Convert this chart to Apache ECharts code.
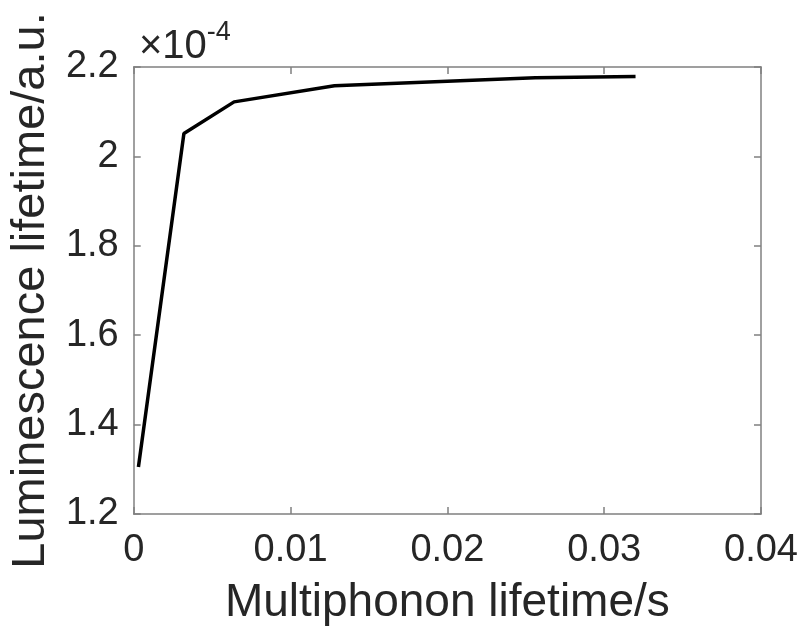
<!DOCTYPE html>
<html>
<head>
<meta charset="utf-8">
<script src="https://cdn.jsdelivr.net/npm/echarts@6/dist/echarts.min.js"></script>
<style>
  html, body { margin: 0; padding: 0; background: #fff; }
  #chart { width: 802px; height: 637px; }
</style>
</head>
<body>
<div id="chart"></div>
<script>
  // multiphonon lifetime (s) vs luminescence lifetime (x1e-4 a.u.)
  const phononLifetime = [0.0003, 0.0032, 0.0064, 0.0128, 0.0256, 0.032];
  const lumLifetime = [1.305, 2.051, 2.122, 2.158, 2.176, 2.179];
  const xTicks = [0, 0.01, 0.02, 0.03, 0.04];
  const yTicks = [1.2, 1.4, 1.6, 1.8, 2.0, 2.2];

  const axisGray = '#808080';
  const textDark = '#262626';
  const font = 'Liberation Sans, Arial, sans-serif';

  const chart = echarts.init(document.getElementById('chart'));

  const xLabelFmt = v => (v === 0 ? '0' : String(+v.toFixed(2)));
  const yLabelFmt = v => String(+v.toFixed(1));

  const baseAxis = {
    axisLine: { show: true, onZero: false, lineStyle: { color: axisGray, width: 1.5 } },
    axisTick: { show: true, inside: true, length: 7, lineStyle: { color: axisGray, width: 1.5 } },
    splitLine: { show: false }
  };

  chart.setOption({
    animation: false,
    title: {
      text: '{a|×10}{b|-4}',
      left: 134,
      top: 14,
      textStyle: {
        rich: {
          a: { fontFamily: font, fontSize: 40, fontWeight: 'normal', color: textDark, verticalAlign: 'bottom', lineHeight: 48 },
          b: { fontFamily: font, fontSize: 27, fontWeight: 'normal', color: textDark, verticalAlign: 'top', lineHeight: 48, padding: [0, 0, 18, 0] }
        }
      }
    },
    grid: { left: 133, top: 67, right: 41, bottom: 123 },
    xAxis: [
      Object.assign({}, baseAxis, {
        type: 'value', min: 0, max: 0.04, interval: 0.01,
        position: 'bottom',
        axisLabel: { fontFamily: font, fontSize: 38, color: textDark, margin: 18, formatter: xLabelFmt },
        name: 'Multiphonon lifetime/s',
        nameLocation: 'middle',
        nameGap: 66,
        nameTextStyle: { fontFamily: font, fontSize: 46, color: textDark }
      }),
      Object.assign({}, baseAxis, {
        type: 'value', min: 0, max: 0.04, interval: 0.01,
        position: 'top',
        axisLabel: { show: false }
      })
    ],
    yAxis: [
      Object.assign({}, baseAxis, {
        type: 'value', min: 1.2, max: 2.2, interval: 0.2,
        position: 'left',
        axisLabel: { fontFamily: font, fontSize: 38, color: textDark, margin: 15, formatter: yLabelFmt },
        name: 'Luminescence lifetime/a.u.',
        nameLocation: 'middle',
        nameGap: 74,
        nameTextStyle: { fontFamily: font, fontSize: 47, color: textDark }
      }),
      Object.assign({}, baseAxis, {
        type: 'value', min: 1.2, max: 2.2, interval: 0.2,
        position: 'right',
        axisLabel: { show: false }
      })
    ],
    series: [{
      type: 'line',
      data: phononLifetime.map((x, i) => [x, lumLifetime[i]]),
      showSymbol: false,
      symbol: 'none',
      lineStyle: { color: '#000', width: 3.5 },
      xAxisIndex: 0,
      yAxisIndex: 0
    }]
  });
</script>
</body>
</html>
